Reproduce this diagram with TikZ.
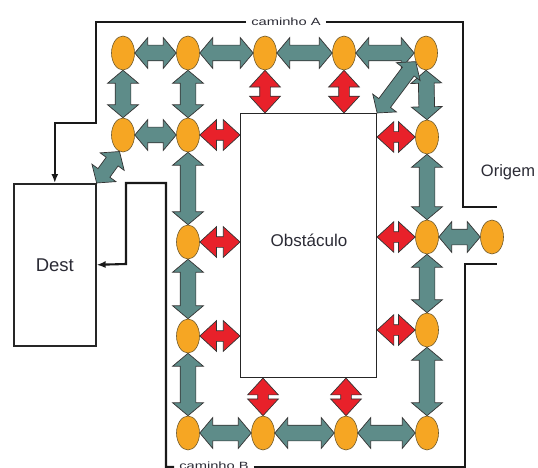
\documentclass[tikz,border=0pt]{standalone}
\usepackage{fontspec}
\setmainfont{Liberation Sans}
\usepackage{graphicx}
\usetikzlibrary{shapes.geometric,shapes.arrows,calc,arrows.meta,backgrounds}
\definecolor{ovfill}{HTML}{F6A623}
\definecolor{ovline}{HTML}{6E5A2E}
\definecolor{garr}{HTML}{5E8C89}
\definecolor{rarr}{HTML}{E8212A}
\definecolor{arrline}{HTML}{333333}
\definecolor{txt}{HTML}{2B2B35}
\newcommand\blkarr[4]{%
  \path let \p1=(#3), \p2=(#4), \n1={veclen(\x2-\x1,\y2-\y1)} in
    (\p1) -- node[#1, minimum height=\n1, sloped] (#2) {} (\p2);}
\tikzset{
  ov/.style={ellipse, draw=ovline, fill=ovfill, line width=0.6pt,
    minimum width=23pt, minimum height=34pt, inner sep=0pt},
  arrbase/.style={double arrow, draw=arrline, line width=0.7pt, inner xsep=0pt,
    anchor=center, double arrow tip angle=100},
  garrow/.style={arrbase, fill=garr, inner ysep=7.5pt, double arrow head extend=7.5pt},
  darrow/.style={arrbase, fill=garr, inner ysep=7pt, double arrow head extend=7.5pt},
  rarrow/.style={arrbase, fill=rarr, inner ysep=5pt, double arrow head extend=10pt,
    double arrow tip angle=85},
  boxn/.style={draw=black!85, inner sep=0pt},
  pline/.style={draw=black!90, line width=2.1pt},
  captxt/.style={text=txt, inner sep=5pt, font=\fontsize{10.5}{12}\selectfont},
}
\begin{document}
\begin{tikzpicture}[x=1pt,y=-1pt]
\useasboundingbox (0,0) rectangle (538,468);

% boxes
\node[boxn, line width=1.6pt, minimum width=82pt, minimum height=162pt, anchor=north west,
  text=txt, font=\fontsize{18.5}{20}\selectfont] (dest) at (13,183) {Dest};
\node[boxn, line width=1.1pt, minimum width=136pt, minimum height=264pt, anchor=north west] (obst) at (240,113) {};
\node[text=txt, font=\fontsize{17}{19}\selectfont] (obsttxt) at (309,240) {Obstáculo};
\node[text=txt, font=\fontsize{16.5}{18}\selectfont] (origtxt) at (508,172) {Origem};

% ovals
\node[ov] (o11) at (123,53) {};
\node[ov] (o12) at (188,53) {};
\node[ov] (o13) at (265,53) {};
\node[ov] (o14) at (344,53) {};
\node[ov] (o15) at (426,53) {};
\node[ov] (o21) at (123,135) {};
\node[ov] (o22) at (188,135) {};
\node[ov] (o25) at (427,137) {};
\node[ov] (o32) at (188,242) {};
\node[ov] (o35) at (427,237) {};
\node[ov] (orig) at (492,237) {};
\node[ov] (o42) at (188,336) {};
\node[ov] (o45) at (427,330) {};
\node[ov] (o52) at (188,433) {};
\node[ov] (o53) at (263,433) {};
\node[ov] (o54) at (346,433) {};
\node[ov] (o55) at (427,433) {};

\begin{scope}[on background layer]
% gray arrows
\blkarr{garrow}{a1}{o11.east}{o12.west}
\blkarr{garrow}{a2}{o12.east}{o13.west}
\blkarr{garrow}{a3}{o13.east}{o14.west}
\blkarr{garrow}{a4}{o14.east}{o15.west}
\blkarr{garrow}{a5}{o11.south}{o21.north}
\blkarr{garrow}{a6}{o12.south}{o22.north}
\blkarr{garrow}{a7}{o15.south}{o25.north}
\blkarr{garrow}{a8}{o21.east}{o22.west}
\blkarr{garrow}{a9}{o22.south}{o32.north}
\blkarr{garrow}{a10}{o32.south}{o42.north}
\blkarr{garrow}{a11}{o42.south}{o52.north}
\blkarr{garrow}{a12}{o52.east}{o53.west}
\blkarr{garrow}{a13}{o53.east}{o54.west}
\blkarr{garrow}{a14}{o54.east}{o55.west}
\blkarr{garrow}{a15}{o55.north}{o45.south}
\blkarr{garrow}{a16}{o45.north}{o35.south}
\blkarr{garrow}{a17}{o35.north}{o25.south}
\blkarr{garrow}{a18}{o35.east}{orig.west}
\blkarr{darrow}{a19}{dest.north east}{o21.258}
\blkarr{darrow}{a20}{obst.north east}{o15.220}
% red arrows
\blkarr{rarrow}{r1}{o13.south}{o13.south |- obst.north}
\blkarr{rarrow}{r2}{o14.south}{o14.south |- obst.north}
\blkarr{rarrow}{r3}{o22.east}{obst.west |- o22.east}
\blkarr{rarrow}{r4}{obst.east |- o25.west}{o25.west}
\blkarr{rarrow}{r5}{o32.east}{obst.west |- o32.east}
\blkarr{rarrow}{r6}{o42.east}{obst.west |- o42.east}
\blkarr{rarrow}{r7}{obst.east |- o35.west}{o35.west}
\blkarr{rarrow}{r8}{obst.east |- o45.west}{o45.west}
\blkarr{rarrow}{r9}{o53.north |- obst.south}{o53.north}
\blkarr{rarrow}{r10}{o54.north |- obst.south}{o54.north}
\end{scope}

% paths A and B
\node[captxt] (capA) at (286,22) {\scalebox{1.4}[1]{caminho A}};
\node[captxt] (capB) at (214,466) {\scalebox{1.4}[1]{caminho B}};
\coordinate (aend) at (497,207);
\coordinate (bend) at (497,264);
\draw[pline] (capA.east) -| (463,207) -- (aend);
\draw[pline,-{Latex[length=9pt,width=7pt]}] (capA.west) -| (96,123) -| (dest.north);
\draw[pline] (capB.east |- 0,467) -| (465,264) -- (bend);
\draw[pline,-{Latex[length=9pt,width=7pt]}] (capB.west |- 0,467) -| (166,183) -| (126,264) -- (dest.east);
\end{tikzpicture}
\end{document}
